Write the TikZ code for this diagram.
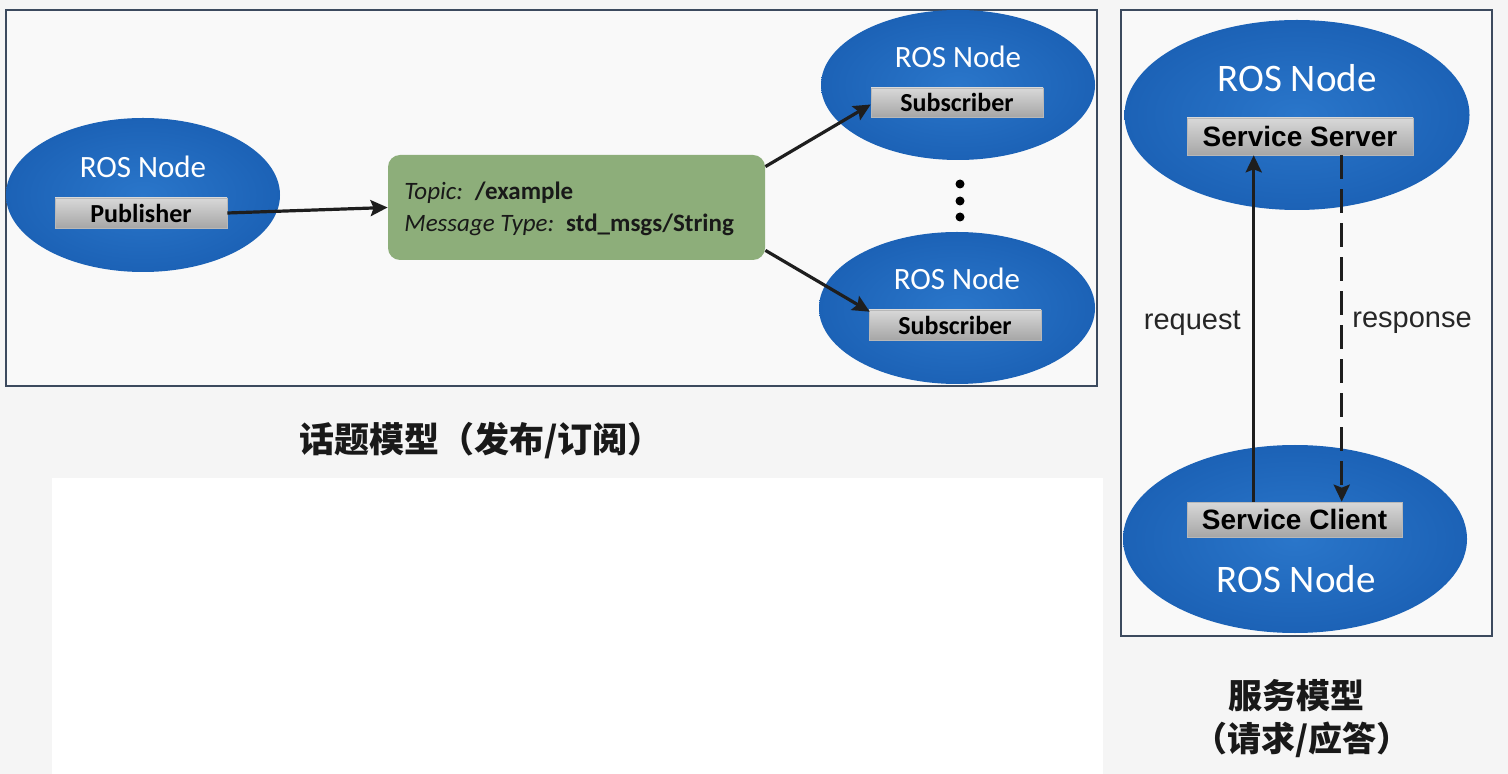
\documentclass[tikz,border=0pt]{standalone}
\usepackage{fontspec}
\setmainfont{Carlito}
\newfontfamily\arialf{Liberation Sans}
\newfontfamily\cjk{Noto Sans CJK SC}
\usetikzlibrary{shapes.geometric,arrows.meta}
\definecolor{bgc}{HTML}{F5F5F5}
\definecolor{framefill}{HTML}{F9F9F9}
\definecolor{framec}{HTML}{3C4A5E}
\definecolor{blueIn}{HTML}{2A76CA}
\definecolor{blueOut}{HTML}{1C62B6}
\definecolor{greenbox}{HTML}{8DAE7A}
\definecolor{grayTop}{HTML}{D8D8D8}
\definecolor{grayBot}{HTML}{A6A6A6}
\definecolor{arrowc}{HTML}{1E1E1E}
\begin{document}
\begin{tikzpicture}[x=0.5pt,y=-0.5pt,
  frame/.style={draw=framec,line width=1pt,fill=framefill},
  rosnode/.style={ellipse,inner sep=0pt,shading=radial,inner color=blueIn,outer color=blueOut},
  rostitle/.style={text=white,font=\fontsize{15.5pt}{18pt}\selectfont,inner sep=0pt},
  rostitlebig/.style={text=white,font=\fontsize{19.5pt}{23pt}\selectfont,inner sep=0pt},
  labelbox/.style={rectangle,inner sep=0pt,top color=grayTop,bottom color=grayBot,draw=grayBot!80,line width=0.3pt,
    font=\fontsize{13pt}{15pt}\selectfont\bfseries},
  srvbox/.style={labelbox,font=\arialf\fontsize{14pt}{16pt}\selectfont\bfseries},
  topicbox/.style={rectangle,rounded corners=6pt,fill=greenbox,inner sep=0pt},
  topictxt/.style={anchor=base west,inner sep=0pt,text=black!90,font=\fontsize{12.5pt}{15pt}\selectfont},
  conn/.style={draw=arrowc,line width=1.6pt,-{Stealth[length=8.5pt,width=8pt,inset=1.5pt]}},
  lbl/.style={inner sep=0pt,text=black!85,font=\arialf\fontsize{14.5pt}{17pt}\selectfont},
  dotc/.style={circle,fill=black,inner sep=0pt,minimum size=4.5pt},
  capt/.style={inner sep=0pt,text=black!90,font=\cjk\bfseries\fontsize{17.5pt}{21pt}\selectfont},
  capts/.style={inner sep=0pt,text=black!90,font=\cjk\bfseries\fontsize{17pt}{21pt}\selectfont}]
\useasboundingbox (0,0) rectangle (1508,774);
\fill[bgc] (0,0) rectangle (1508,774);
\fill[white] (52,478) rectangle (1103,774);
\draw[frame] (6,10) rectangle (1097,386);
\draw[frame] (1121,10) rectangle (1492,636);

% publisher
\node[rosnode,minimum width=137pt,minimum height=77pt] (pubN) at (143,195) {};
\node[rostitle] (pubT) at (143,167) {ROS Node};
\node[labelbox,minimum width=86pt,minimum height=15pt] (pubBox) at (141,213) {Publisher};

% topic
\node[topicbox,minimum width=188.5pt,minimum height=52.5pt] (topic) at (576.5,207.5) {};
\node[topictxt] (topicL1) at (404,200) {\textit{Topic:}\hspace{6pt}\textbf{/example}};
\node[topictxt] (topicL2) at (404,232) {\textit{Message Type:}\hspace{6pt}\textbf{std\_msgs/String}};

% subscribers
\node[rosnode,minimum width=137pt,minimum height=75pt] (subAN) at (958,85) {};
\node[rostitle] (subAT) at (958,57) {ROS Node};
\node[labelbox,minimum width=86pt,minimum height=14.5pt] (subABox) at (957,102.5) {Subscriber};

\node[rosnode,minimum width=138pt,minimum height=76pt] (subBN) at (957,308) {};
\node[rostitle] (subBT) at (957,279) {ROS Node};
\node[labelbox,minimum width=86pt,minimum height=15pt] (subBBox) at (955,325) {Subscriber};

\node[dotc] (d1) at (960,184) {};
\node[dotc] (d2) at (960,201) {};
\node[dotc] (d3) at (960,217) {};

\draw[conn] (pubBox.east) -- (topic.west);
\draw[conn] ([yshift=-6pt]topic.north east) -- ([yshift=-1pt]subABox.west);
\draw[conn] ([yshift=5pt]topic.south east) -- ([shift={(0.5pt,-1pt)}]subBBox.north west);

% service
\node[rosnode,minimum width=172.5pt,minimum height=95pt] (srvN) at (1297,115) {};
\node[rostitlebig] (srvT) at (1297,78) {ROS Node};
\node[srvbox,minimum width=113pt,minimum height=18.5pt] (srvBox) at (1300,136.5) {Service Server};

\node[rosnode,minimum width=172pt,minimum height=94pt] (cliN) at (1295,539) {};
\node[rostitlebig] (cliT) at (1296,579) {ROS Node};
\node[srvbox,minimum width=107.5pt,minimum height=17.5pt] (cliBox) at (1294.5,519.5) {Service Client};

\draw[conn] ([xshift=33.5pt]cliBox.north west) -- ([xshift=33.5pt]srvBox.south west);
\draw[conn,dash pattern=on 12pt off 5pt] ([xshift=77.5pt]srvBox.south west) -- ([xshift=77.5pt]cliBox.north west);
\node[lbl,anchor=east] (reqL) at (1241,323) {request};
\node[lbl,anchor=west] (resL) at (1352,323) {response};

% captions
\node[capt] (capTopic) at (481,441) {话题模型（发布/订阅）};
\node[capts] (capSrv1) at (1296,696) {服务模型};
\node[capts] (capSrv2) at (1302,740) {（请求/应答）};
\end{tikzpicture}
\end{document}
